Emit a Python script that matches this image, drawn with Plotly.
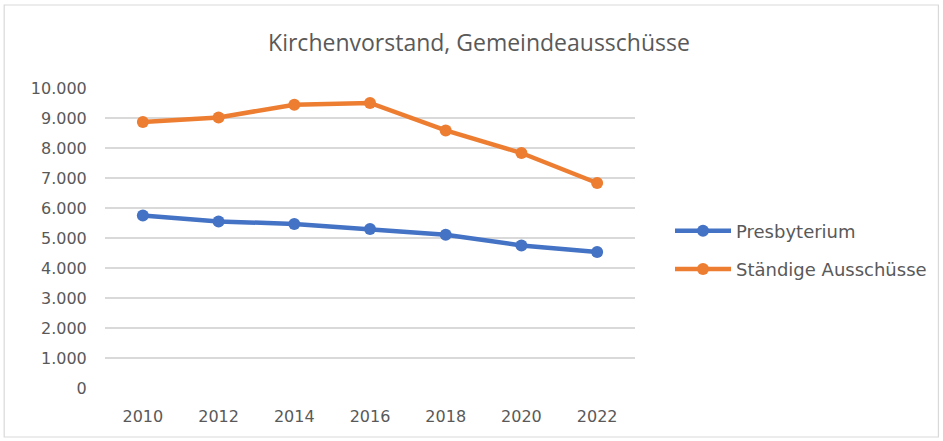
import plotly.graph_objects as go

years = ["2010", "2012", "2014", "2016", "2018", "2020", "2022"]
presbyterium = [5753, 5553, 5467, 5300, 5110, 4753, 4533]
staendige = [8867, 9020, 9443, 9500, 8587, 7833, 6833]
y_ticks = [0, 1000, 2000, 3000, 4000, 5000, 6000, 7000, 8000, 9000, 10000]

W, H = 943, 441
L, R, T, B = 105, 636, 88, 388
TICKFONT = "DejaVu Sans"

fig = go.Figure()
fig.add_trace(go.Scatter(x=years, y=presbyterium, name="Presbyterium", mode="lines+markers",
                         line=dict(color="#4472C4", width=4.5), marker=dict(size=12, color="#4472C4"),
                         legendgroup="a"))
fig.add_trace(go.Scatter(x=years, y=staendige, name="Ständige Ausschüsse", mode="lines+markers",
                         line=dict(color="#ED7D31", width=4.5), marker=dict(size=12, color="#ED7D31"),
                         legendgroup="b"))

def px(x):
    return (x - L) / (R - L)

def py(y):
    return (B - y) / (B - T)

fig.add_shape(type="rect", xref="paper", yref="paper",
              x0=px(4), x1=px(940), y0=py(437), y1=py(5),
              line=dict(color="#d9d9d9", width=1.2), layer="below")

fig.update_layout(
    width=W, height=H,
    margin=dict(l=L, r=W - R, t=T, b=H - B, pad=0),
    paper_bgcolor="white", plot_bgcolor="white",
    separators=",.",
    title=dict(text="Kirchenvorstand, Gemeindeausschüsse", x=479 / W,
               xref="container", xanchor="center", y=1 - 43 / H, yanchor="middle",
               font=dict(family="Open Sans", size=23, color="#595959")),
    font=dict(family=TICKFONT, color="#595959"),
    xaxis=dict(type="category", range=[-0.5, 6.5], showgrid=False, showline=False, zeroline=False,
               ticks="outside", ticklen=14, tickcolor="rgba(0,0,0,0)",
               tickfont=dict(family=TICKFONT, size=16, color="#595959")),
    yaxis=dict(range=[0, 10000], tickvals=y_ticks, tickformat=",d", showgrid=True,
               gridcolor="#d9d9d9", gridwidth=1.5, zeroline=False, showline=False,
               ticks="outside", ticklen=14, tickcolor="rgba(0,0,0,0)",
               tickfont=dict(family=TICKFONT, size=16, color="#595959")),
    legend=dict(x=px(670), xanchor="left", y=py(250), yanchor="middle",
                font=dict(family=TICKFONT, size=18, color="#595959"),
                tracegroupgap=12, traceorder="grouped", itemwidth=56),
)

fig.write_html("out.html", config={"displayModeBar": False},
               post_script="document.body.style.margin='0px';")
